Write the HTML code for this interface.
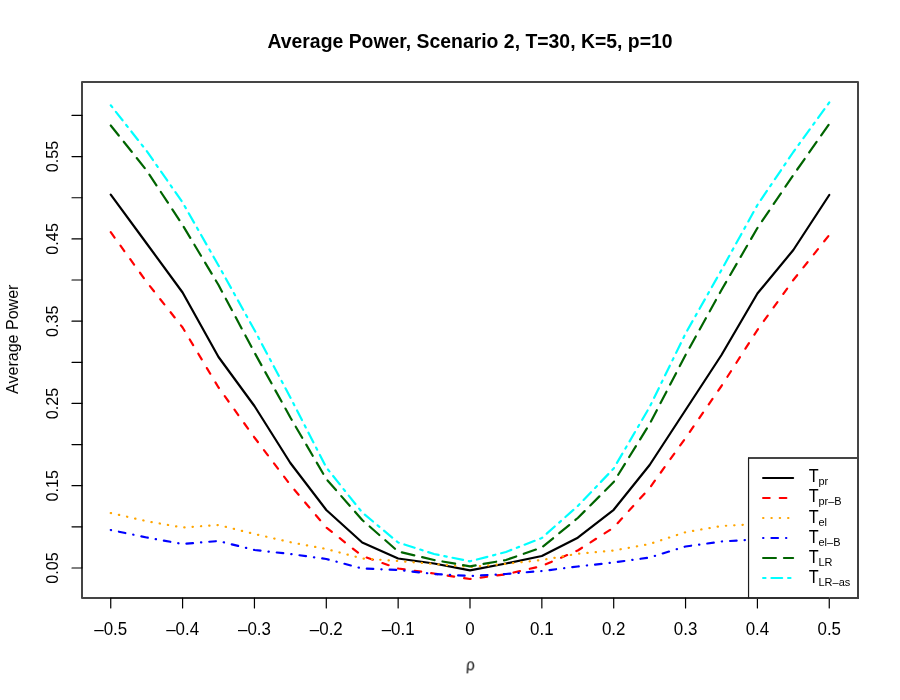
<!DOCTYPE html>
<html><head><meta charset="utf-8"><title>Average Power</title>
<style>
html,body{margin:0;padding:0;background:#fff;}
body{width:900px;height:700px;overflow:hidden;font-family:"Liberation Sans",sans-serif;}
svg{display:block;}
text{font-family:"Liberation Sans",sans-serif;fill:#000;}
.ax{stroke:#000;stroke-width:1.2;fill:none;stroke-linecap:round;}
.bx{stroke:#454545;stroke-width:2;fill:none;stroke-linejoin:round;}
.bx2{stroke:#303030;stroke-width:2;fill:none;stroke-linecap:butt;}
.ln{fill:none;stroke-width:2.2;stroke-linecap:round;stroke-linejoin:round;}
.tx{filter:grayscale(1);}
</style></head><body>
<svg width="900" height="700" viewBox="0 0 900 700">
<rect x="0" y="0" width="900" height="700" fill="#ffffff"/>
<g class="tx">
<text transform="translate(470.00 47.80) scale(0.924 1)" font-size="21" text-anchor="middle" font-weight="bold">Average Power, Scenario 2, T=30, K=5, p=10</text>
<text transform="translate(110.74 634.50) scale(0.95 1)" font-size="17.8" text-anchor="middle">–0.5</text>
<text transform="translate(182.59 634.50) scale(0.95 1)" font-size="17.8" text-anchor="middle">–0.4</text>
<text transform="translate(254.44 634.50) scale(0.95 1)" font-size="17.8" text-anchor="middle">–0.3</text>
<text transform="translate(326.30 634.50) scale(0.95 1)" font-size="17.8" text-anchor="middle">–0.2</text>
<text transform="translate(398.15 634.50) scale(0.95 1)" font-size="17.8" text-anchor="middle">–0.1</text>
<text transform="translate(470.00 634.50) scale(0.95 1)" font-size="17.8" text-anchor="middle">0</text>
<text transform="translate(541.85 634.50) scale(0.95 1)" font-size="17.8" text-anchor="middle">0.1</text>
<text transform="translate(613.70 634.50) scale(0.95 1)" font-size="17.8" text-anchor="middle">0.2</text>
<text transform="translate(685.56 634.50) scale(0.95 1)" font-size="17.8" text-anchor="middle">0.3</text>
<text transform="translate(757.41 634.50) scale(0.95 1)" font-size="17.8" text-anchor="middle">0.4</text>
<text transform="translate(829.26 634.50) scale(0.95 1)" font-size="17.8" text-anchor="middle">0.5</text>
<text transform="translate(58.00 568.00) rotate(-90) scale(0.995 1)" font-size="16.3" text-anchor="middle">0.05</text>
<text transform="translate(58.00 485.72) rotate(-90) scale(0.995 1)" font-size="16.3" text-anchor="middle">0.15</text>
<text transform="translate(58.00 403.44) rotate(-90) scale(0.995 1)" font-size="16.3" text-anchor="middle">0.25</text>
<text transform="translate(58.00 321.16) rotate(-90) scale(0.995 1)" font-size="16.3" text-anchor="middle">0.35</text>
<text transform="translate(58.00 238.88) rotate(-90) scale(0.995 1)" font-size="16.3" text-anchor="middle">0.45</text>
<text transform="translate(58.00 156.60) rotate(-90) scale(0.995 1)" font-size="16.3" text-anchor="middle">0.55</text>
<text transform="translate(18.00 339.20) rotate(-90) scale(0.978 1)" font-size="16.4" text-anchor="middle">Average Power</text>
<text transform="translate(470.20 670.40) scale(0.95 1) skewX(-3)" font-size="15.8" text-anchor="middle">ρ</text>
</g>
<clipPath id="c"><rect x="82" y="82" width="776" height="516"/></clipPath>
<g clip-path="url(#c)">
<path class="ln" stroke="#000000" d="M110.74,194.70 L146.67,243.50 L182.59,292.50 L218.52,357.00 L254.44,406.00 L290.37,463.00 L326.30,510.00 L362.22,542.50 L398.15,558.50 L434.07,563.50 L470.00,570.30 L505.93,563.50 L541.85,556.00 L577.78,537.70 L613.70,509.80 L649.63,465.00 L685.56,410.00 L721.48,355.00 L757.41,293.50 L793.33,250.00 L829.26,195.00"/>
<path class="ln" stroke="#ff0000" stroke-dasharray="6.573 10.093" d="M110.74,232.20 L146.67,282.00 L182.59,327.50 L218.52,387.50 L254.44,437.50 L290.37,485.00 L326.30,527.50 L362.22,556.00 L398.15,568.50 L434.07,573.50 L470.00,579.00 L505.93,574.30 L541.85,566.00 L577.78,550.50 L613.70,527.50 L649.63,488.00 L685.56,438.00 L721.48,386.00 L757.41,330.00 L793.33,280.00 L829.26,235.00"/>
<path class="ln" stroke="#ffa500" stroke-dasharray="0.323 8.01" d="M110.74,513.00 L146.67,521.20 L182.59,527.50 L218.52,525.00 L254.44,534.00 L290.37,542.20 L326.30,549.00 L362.22,558.50 L398.15,561.00 L434.07,564.00 L470.00,567.00 L505.93,563.80 L541.85,560.00 L577.78,553.75 L613.70,550.50 L649.63,544.00 L685.56,532.20 L721.48,526.00 L757.41,524.00 L793.33,523.00 L829.26,522.00"/>
<path class="ln" stroke="#0000ff" stroke-dasharray="0.323 8.01 6.573 8.01" d="M110.74,530.00 L146.67,537.50 L182.59,544.00 L218.52,541.00 L254.44,550.00 L290.37,554.00 L326.30,559.00 L362.22,568.50 L398.15,570.00 L434.07,574.00 L470.00,576.00 L505.93,574.00 L541.85,571.00 L577.78,566.50 L613.70,562.50 L649.63,557.50 L685.56,546.50 L721.48,541.50 L757.41,539.30 L793.33,538.00 L829.26,537.00"/>
<path class="ln" stroke="#006400" stroke-dasharray="12.823 8.01" d="M110.74,125.50 L146.67,170.50 L182.59,225.00 L218.52,285.00 L254.44,352.50 L290.37,417.50 L326.30,479.00 L362.22,520.00 L398.15,551.50 L434.07,560.00 L470.00,566.30 L505.93,560.00 L541.85,547.50 L577.78,518.00 L613.70,482.00 L649.63,424.00 L685.56,355.00 L721.48,290.00 L757.41,228.00 L793.33,175.00 L829.26,124.00"/>
<path class="ln" stroke="#00ffff" stroke-dasharray="2.407 5.927 10.74 5.927" d="M110.74,105.30 L146.67,151.00 L182.59,202.50 L218.52,265.50 L254.44,330.00 L290.37,397.50 L326.30,467.50 L362.22,512.50 L398.15,542.50 L434.07,554.00 L470.00,561.30 L505.93,552.00 L541.85,538.00 L577.78,506.00 L613.70,468.50 L649.63,407.00 L685.56,333.50 L721.48,270.00 L757.41,205.00 L793.33,152.00 L829.26,102.50"/>
</g>
<rect class="bx" x="82" y="82" width="776" height="516"/>
<path class="bx2" d="M110.74,598 H829.26"/>
<path class="ax" d="M110.74,598 v10 M182.59,598 v10 M254.44,598 v10 M326.30,598 v10 M398.15,598 v10 M470.00,598 v10 M541.85,598 v10 M613.70,598 v10 M685.56,598 v10 M757.41,598 v10 M829.26,598 v10"/>
<path class="bx2" d="M82,568.00 V115.46"/>
<path class="ax" d="M82,568.00 h-10 M82,526.86 h-10 M82,485.72 h-10 M82,444.58 h-10 M82,403.44 h-10 M82,362.30 h-10 M82,321.16 h-10 M82,280.02 h-10 M82,238.88 h-10 M82,197.74 h-10 M82,156.60 h-10 M82,115.46 h-10"/>
<rect x="748.6" y="458" width="109.4" height="140" fill="#ffffff"/>
<path class="bx" d="M748.1,458 H858"/>
<path class="bx2" style="stroke:#404040" d="M858,457.5 V599 M829.3,598 H858"/>
<path class="bx2" d="M748.1,598 H829.3"/>
<path class="ax" style="stroke-width:1.2;stroke:#1c1c1c" d="M748.55,458 V598"/>
<g class="tx">
<text transform="translate(808.70 482.00) scale(0.9 1)" font-size="18" text-anchor="start">T</text>
<text transform="translate(818.50 485.10) scale(0.955 1)" font-size="11.5" text-anchor="start">pr</text>
<text transform="translate(808.70 502.00) scale(0.9 1)" font-size="18" text-anchor="start">T</text>
<text transform="translate(818.50 505.10) scale(0.955 1)" font-size="11.5" text-anchor="start">pr–B</text>
<text transform="translate(808.70 523.00) scale(0.9 1)" font-size="18" text-anchor="start">T</text>
<text transform="translate(818.50 525.60) scale(0.955 1)" font-size="11.5" text-anchor="start">el</text>
<text transform="translate(808.70 543.00) scale(0.9 1)" font-size="18" text-anchor="start">T</text>
<text transform="translate(818.50 545.60) scale(0.955 1)" font-size="11.5" text-anchor="start">el–B</text>
<text transform="translate(808.70 563.00) scale(0.9 1)" font-size="18" text-anchor="start">T</text>
<text transform="translate(818.50 565.60) scale(0.955 1)" font-size="11.5" text-anchor="start">LR</text>
<text transform="translate(808.70 583.00) scale(0.9 1)" font-size="18" text-anchor="start">T</text>
<text transform="translate(818.50 585.60) scale(0.955 1)" font-size="11.5" text-anchor="start">LR–as</text>
</g>
<path class="ln" stroke="#000000" d="M763.1,478 H793.1"/>
<path class="ln" stroke="#ff0000" stroke-dasharray="6.573 10.093" d="M763.1,498 H793.1"/>
<path class="ln" stroke="#ffa500" stroke-dasharray="0.323 8.01" d="M763.1,518 H793.1"/>
<path class="ln" stroke="#0000ff" stroke-dasharray="0.323 8.01 6.573 8.01" d="M763.1,538 H793.1"/>
<path class="ln" stroke="#006400" stroke-dasharray="12.823 8.01" d="M763.1,558 H793.1"/>
<path class="ln" stroke="#00ffff" stroke-dasharray="2.407 5.927 10.74 5.927" d="M763.1,578 H793.1"/>
</svg>
</body></html>
